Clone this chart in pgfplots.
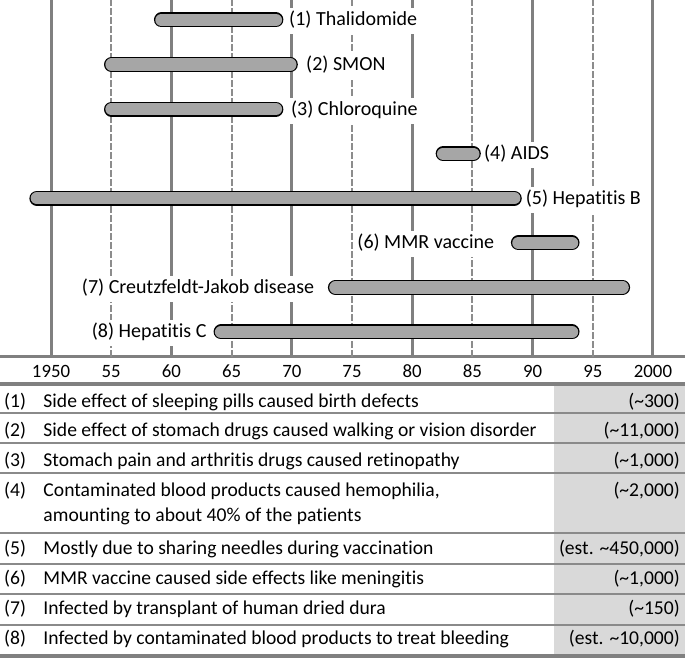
\documentclass[border=0pt]{standalone}
\usepackage{fontspec}
\setmainfont{Carlito}[Ligatures=NoCommon]
\usepackage{pgfplots}
\pgfplotsset{compat=1.18}

\definecolor{gridgray}{HTML}{808080}
\definecolor{dashgray}{HTML}{8C8C8C}
\definecolor{barfill}{HTML}{A6A6A6}
\definecolor{sepgray}{HTML}{8A8A8A}
\definecolor{colshade}{HTML}{D9D9D9}

\pgfplotsset{
  barout/.style={black, line width=15bp, line cap=round, shorten <=7.5bp, shorten >=7.5bp, no markers, forget plot},
  barin/.style={draw=barfill, line width=12.4bp, line cap=round, shorten <=7.5bp, shorten >=7.5bp, no markers, forget plot},
}
\tikzset{
  lbl/.style={fill=white, inner xsep=2bp, inner ysep=3.5bp, text height=14bp, text depth=5bp,
    font=\fontsize{20bp}{24bp}\selectfont, yshift=-6bp},
  lblr/.style={lbl, anchor=base west, xshift=-2bp},
  lbll/.style={lbl, anchor=base east, xshift=2bp},
  tbl/.style={inner sep=0pt, font=\fontsize{19.6bp}{23bp}\selectfont},
}

\begin{document}
\begin{tikzpicture}
\begin{axis}[
  at={(0,301bp)}, anchor=south west,
  width=685bp, height=357bp, scale only axis,
  xmin=1945.76, xmax=2002.66,
  ymin=0.439, ymax=8.449,
  axis y line=none,
  axis x line*=bottom,
  x axis line style={-, draw=gridgray, line width=3bp},
  xtick={1950,1960,1970,1980,1990,2000},
  xticklabels={1950,60,70,80,90,2000},
  extra x ticks={1955,1965,1975,1985,1995},
  extra x tick labels={55,65,75,85,95},
  extra x tick style={major grid style={draw=dashgray, line width=1.8bp, dash pattern=on 7bp off 2bp}},
  xmajorgrids,
  major grid style={draw=gridgray, line width=3bp},
  major tick length=0pt,
  xticklabel style={font=\fontsize{18.8bp}{22bp}\selectfont, anchor=base, yshift=-20.3bp, inner sep=0pt},
  clip=false,
]
% (1) Thalidomide
\addplot[barout] coordinates {(1958.55,8) (1969.3,8)};
\addplot[barin]  coordinates {(1958.55,8) (1969.3,8)};
% (2) SMON
\addplot[barout] coordinates {(1954.4,7) (1970.5,7)};
\addplot[barin]  coordinates {(1954.4,7) (1970.5,7)};
% (3) Chloroquine
\addplot[barout] coordinates {(1954.4,6) (1969.3,6)};
\addplot[barin]  coordinates {(1954.4,6) (1969.3,6)};
% (4) AIDS
\addplot[barout] coordinates {(1981.95,5) (1985.7,5)};
\addplot[barin]  coordinates {(1981.95,5) (1985.7,5)};
% (5) Hepatitis B
\addplot[barout] coordinates {(1948.2,4) (1989.1,4)};
\addplot[barin]  coordinates {(1948.2,4) (1989.1,4)};
% (6) MMR vaccine
\addplot[barout] coordinates {(1988.2,3) (1993.9,3)};
\addplot[barin]  coordinates {(1988.2,3) (1993.9,3)};
% (7) Creutzfeldt-Jakob disease
\addplot[barout] coordinates {(1973.0,2) (1998.1,2)};
\addplot[barin]  coordinates {(1973.0,2) (1998.1,2)};
% (8) Hepatitis C
\addplot[barout] coordinates {(1963.5,1) (1993.9,1)};
\addplot[barin]  coordinates {(1963.5,1) (1993.9,1)};

\node[lblr] at (axis cs:1969.77,8) {(1) Thalidomide};
\node[lblr] at (axis cs:1971.18,7) {(2) SMON};
\node[lblr] at (axis cs:1969.93,6) {(3) Chloroquine};
\node[lblr] at (axis cs:1985.96,5) {(4) AIDS};
\node[lblr] at (axis cs:1989.43,4) {(5) Hepatitis B};
\node[lbll] at (axis cs:1986.82,3) {(6) MMR vaccine};
\node[lbll] at (axis cs:1971.87,2) {(7) Creutzfeldt-Jakob disease};
\node[lbll] at (axis cs:1962.93,1) {(8) Hepatitis C};
\end{axis}

% table under the timeline, in pixel rows counted from the top
\begin{scope}[x=1bp, y=-1bp, shift={(0,658bp)}]
  \fill[colshade] (554,386) rectangle (685,654.5);
  \draw[gridgray, line width=3.7bp] (0,384) -- (685,384);
  \foreach \r in {413.3,443.3,473.3,533.3,564,594,625}
    \draw[sepgray, line width=1.6bp] (0,\r) -- (685,\r);
  \draw[gridgray, line width=4bp] (0,656.5) -- (685,656.5);

  \node[tbl, anchor=base west] at (4,407.3) {(1)};
  \node[tbl, anchor=base west] at (43.3,407.3) {Side effect of sleeping pills caused birth defects};
  \node[tbl, anchor=base east] at (680,407.3) {(\textasciitilde300)};

  \node[tbl, anchor=base west] at (4,437) {(2)};
  \node[tbl, anchor=base west] at (43.3,437) {Side effect of stomach drugs caused walking or vision disorder};
  \node[tbl, anchor=base east] at (680,437) {(\textasciitilde11,000)};

  \node[tbl, anchor=base west] at (4,466.7) {(3)};
  \node[tbl, anchor=base west] at (43.3,466.7) {Stomach pain and arthritis drugs caused retinopathy};
  \node[tbl, anchor=base east] at (680,466.7) {(\textasciitilde1,000)};

  \node[tbl, anchor=base west] at (4,496.7) {(4)};
  \node[tbl, anchor=base west] at (43.3,496.7) {Contaminated blood products caused hemophilia,};
  \node[tbl, anchor=base west] at (43.3,521.7) {amounting to about 40\% of the patients};
  \node[tbl, anchor=base east] at (680,496.7) {(\textasciitilde2,000)};

  \node[tbl, anchor=base west] at (4,555) {(5)};
  \node[tbl, anchor=base west] at (43.3,555) {Mostly due to sharing needles during vaccination};
  \node[tbl, anchor=base east] at (680,555) {(est. \textasciitilde450,000)};

  \node[tbl, anchor=base west] at (4,585) {(6)};
  \node[tbl, anchor=base west] at (43.3,585) {MMR vaccine caused side effects like meningitis};
  \node[tbl, anchor=base east] at (680,585) {(\textasciitilde1,000)};

  \node[tbl, anchor=base west] at (4,615) {(7)};
  \node[tbl, anchor=base west] at (43.3,615) {Infected by transplant of human dried dura};
  \node[tbl, anchor=base east] at (680,615) {(\textasciitilde150)};

  \node[tbl, anchor=base west] at (4,645) {(8)};
  \node[tbl, anchor=base west] at (43.3,645) {Infected by contaminated blood products to treat bleeding};
  \node[tbl, anchor=base east] at (680,645) {(est. \textasciitilde10,000)};
\end{scope}

\pgfresetboundingbox
\useasboundingbox (0,0) rectangle (685bp,658bp);
\end{tikzpicture}
\end{document}
